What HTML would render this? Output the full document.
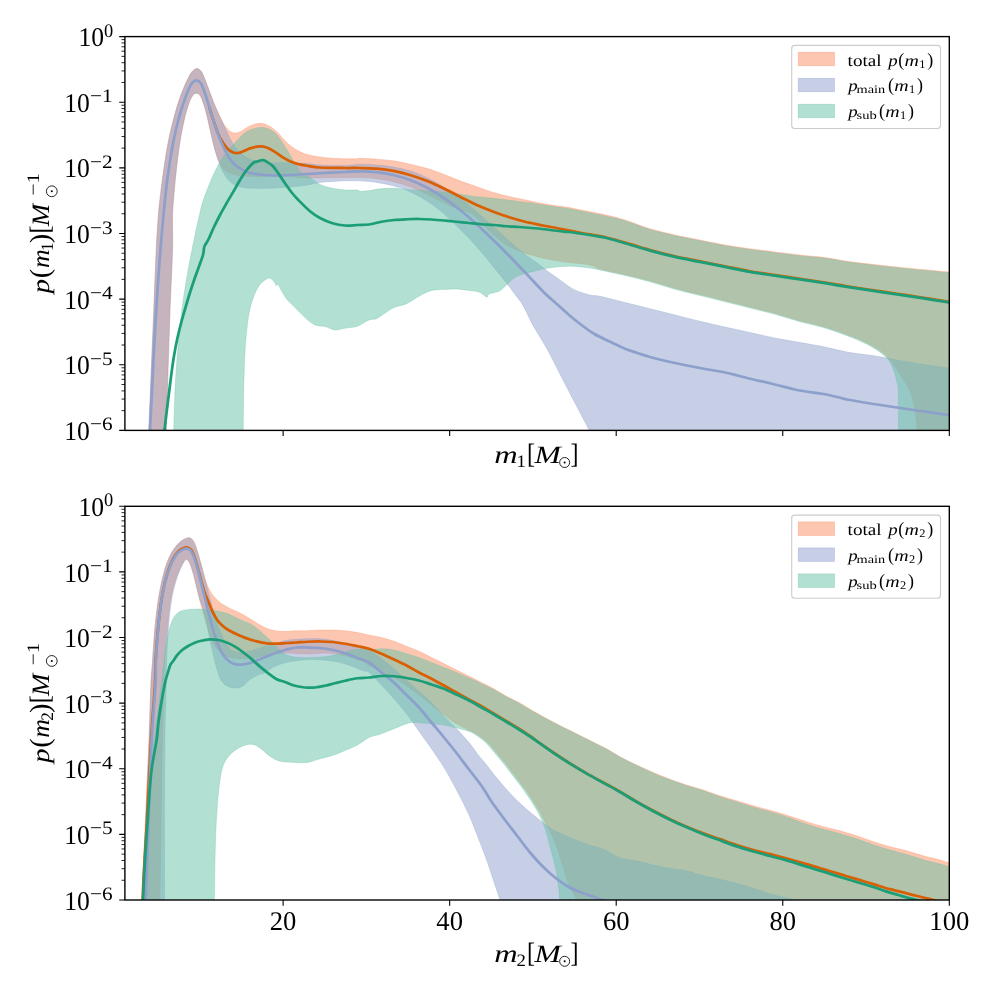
<!DOCTYPE html>
<html><head><meta charset="utf-8"><title>mass spectrum</title>
<style>
html,body{margin:0;padding:0;background:#fff;}
body{width:996px;height:996px;overflow:hidden;}
svg{display:block;}
text{font-family:"Liberation Serif",serif;fill:#000;text-rendering:geometricPrecision;filter:grayscale(1);}
</style></head><body>
<svg width="996" height="996" viewBox="0 0 996 996">
<rect width="996" height="996" fill="#fff"/>
<clipPath id="c1"><rect x="124.90" y="36.60" width="824.40" height="393.80"/></clipPath>
<g clip-path="url(#c1)"><path d="M146.25,465.00C146.67,459.21 147.92,446.08 148.75,430.25C149.58,414.42 150.42,390.04 151.25,370.00C152.08,349.96 152.92,330.00 153.75,310.00C154.58,290.00 155.49,265.67 156.25,250.00C157.01,234.33 157.57,225.72 158.33,216.00C159.10,206.28 159.86,199.89 160.83,191.67C161.81,183.44 162.92,175.00 164.17,166.67C165.42,158.33 166.81,149.44 168.33,141.67C169.86,133.89 171.53,126.94 173.33,120.00C175.14,113.06 177.22,105.83 179.17,100.00C181.11,94.17 183.06,89.44 185.00,85.00C186.94,80.56 189.17,75.97 190.83,73.33C192.50,70.69 193.89,69.94 195.00,69.17C196.11,68.39 196.53,68.39 197.50,68.67C198.47,68.94 199.72,69.36 200.83,70.83C201.94,72.31 202.92,74.58 204.17,77.50C205.42,80.42 206.81,84.31 208.33,88.33C209.86,92.36 211.67,97.50 213.33,101.67C215.00,105.83 216.67,109.72 218.33,113.33C220.00,116.94 221.67,120.56 223.33,123.33C225.00,126.11 226.67,128.42 228.33,130.00C230.00,131.58 231.67,132.42 233.33,132.83C235.00,133.25 236.67,132.97 238.33,132.50C240.00,132.03 241.67,130.97 243.33,130.00C245.00,129.03 246.39,127.64 248.33,126.67C250.28,125.69 253.06,124.72 255.00,124.17C256.94,123.61 258.33,123.33 260.00,123.33C261.67,123.33 263.06,123.47 265.00,124.17C266.94,124.86 269.44,125.97 271.67,127.50C273.89,129.03 276.11,131.11 278.33,133.33C280.56,135.56 282.78,138.61 285.00,140.83C287.22,143.06 289.44,145.00 291.67,146.67C293.89,148.33 295.94,149.58 298.33,150.83C300.72,152.08 302.39,153.14 306.00,154.17C309.61,155.19 315.58,156.32 320.00,157.00C324.42,157.68 328.33,157.96 332.50,158.25C336.67,158.54 340.83,158.67 345.00,158.75C349.17,158.83 355.00,158.82 357.50,158.75C360.00,158.68 356.81,158.26 360.00,158.33C363.19,158.40 371.11,158.75 376.67,159.17C382.22,159.58 387.78,160.00 393.33,160.83C398.89,161.67 404.44,162.92 410.00,164.17C415.56,165.42 421.11,166.67 426.67,168.33C432.22,170.00 437.78,172.08 443.33,174.17C448.89,176.25 454.44,178.75 460.00,180.83C465.56,182.92 471.11,184.72 476.67,186.67C482.22,188.61 487.78,190.83 493.33,192.50C498.89,194.17 504.56,195.42 510.00,196.67C515.44,197.92 522.42,199.24 526.00,200.00C529.58,200.76 528.50,200.62 531.50,201.25C534.50,201.88 539.83,203.00 544.00,203.75C548.17,204.50 552.33,205.12 556.50,205.75C560.67,206.38 564.83,206.79 569.00,207.50C573.17,208.21 577.33,209.17 581.50,210.00C585.67,210.83 589.83,211.67 594.00,212.50C598.17,213.33 601.33,213.75 606.50,215.00C611.67,216.25 617.75,217.71 625.00,220.00C632.25,222.29 641.67,226.25 650.00,228.75C658.33,231.25 666.67,233.12 675.00,235.00C683.33,236.88 691.67,238.33 700.00,240.00C708.33,241.67 716.67,243.54 725.00,245.00C733.33,246.46 741.67,247.58 750.00,248.75C758.33,249.92 766.67,250.96 775.00,252.00C783.33,253.04 791.67,254.08 800.00,255.00C808.33,255.92 817.17,256.46 825.00,257.50C832.83,258.54 839.17,260.12 847.00,261.25C854.83,262.38 863.67,263.29 872.00,264.25C880.33,265.21 888.67,266.12 897.00,267.00C905.33,267.88 913.33,268.67 922.00,269.50C930.67,270.33 943.17,271.46 949.00,272.00C954.83,272.54 955.67,272.62 957.00,272.75L962.00,525.00 L918.25,525.00L918.25,465.00C918.04,459.21 917.62,439.83 917.00,430.25C916.38,420.67 915.75,414.21 914.50,407.50C913.25,400.79 911.38,394.58 909.50,390.00C907.62,385.42 905.33,383.33 903.25,380.00C901.17,376.67 899.29,373.42 897.00,370.00C894.71,366.58 892.00,362.50 889.50,359.50C887.00,356.50 884.92,354.29 882.00,352.00C879.08,349.71 875.75,347.83 872.00,345.75C868.25,343.67 863.67,341.38 859.50,339.50C855.33,337.62 852.75,336.58 847.00,334.50C841.25,332.42 832.83,329.29 825.00,327.00C817.17,324.71 808.33,323.04 800.00,320.75C791.67,318.46 783.33,315.54 775.00,313.25C766.67,310.96 758.33,309.08 750.00,307.00C741.67,304.92 733.33,302.83 725.00,300.75C716.67,298.67 708.33,296.58 700.00,294.50C691.67,292.42 683.33,290.54 675.00,288.25C666.67,285.96 658.33,283.04 650.00,280.75C641.67,278.46 633.33,276.46 625.00,274.50C616.67,272.54 605.83,270.58 600.00,269.00C594.17,267.42 594.44,266.00 590.00,265.00C585.56,264.00 578.89,263.69 573.33,263.00C567.78,262.31 562.22,261.75 556.67,260.83C551.11,259.92 545.56,258.89 540.00,257.50C534.44,256.11 528.89,254.58 523.33,252.50C517.78,250.42 512.22,248.47 506.67,245.00C501.11,241.53 495.56,236.67 490.00,231.67C484.44,226.67 478.33,218.61 473.33,215.00C468.33,211.39 465.00,212.08 460.00,210.00C455.00,207.92 448.89,205.14 443.33,202.50C437.78,199.86 432.22,196.81 426.67,194.17C421.11,191.53 415.56,188.75 410.00,186.67C404.44,184.58 398.89,183.00 393.33,181.67C387.78,180.33 382.22,179.36 376.67,178.67C371.11,177.97 371.78,177.61 360.00,177.50C348.22,177.39 317.67,178.14 306.00,178.00C294.33,177.86 295.44,176.94 290.00,176.67C284.56,176.39 278.89,176.33 273.33,176.33C267.78,176.33 262.22,176.75 256.67,176.67C251.11,176.58 244.44,176.39 240.00,175.83C235.56,175.28 232.78,174.53 230.00,173.33C227.22,172.14 225.14,170.61 223.33,168.67C221.53,166.72 220.56,164.78 219.17,161.67C217.78,158.56 216.25,154.17 215.00,150.00C213.75,145.83 212.78,141.39 211.67,136.67C210.56,131.94 209.44,126.39 208.33,121.67C207.22,116.94 206.25,112.50 205.00,108.33C203.75,104.17 202.22,99.17 200.83,96.67C199.44,94.17 198.06,93.47 196.67,93.33C195.28,93.19 193.89,93.89 192.50,95.83C191.11,97.78 189.72,100.97 188.33,105.00C186.94,109.03 185.56,113.89 184.17,120.00C182.78,126.11 181.25,133.89 180.00,141.67C178.75,149.44 177.64,158.33 176.67,166.67C175.69,175.00 174.86,183.44 174.17,191.67C173.47,199.89 172.78,206.28 172.50,216.00C172.22,225.72 172.92,234.33 172.50,250.00C172.08,265.67 170.75,290.00 170.00,310.00C169.25,330.00 168.62,349.96 168.00,370.00C167.38,390.04 166.67,414.42 166.25,430.25C165.83,446.08 165.62,459.21 165.50,465.00Z" fill="#fc8d62" fill-opacity="0.5" stroke="#fc8d62" stroke-opacity="0.5" stroke-width="0.6"/>
<path d="M146.25,465.00C146.67,459.21 147.92,446.08 148.75,430.25C149.58,414.42 150.42,390.04 151.25,370.00C152.08,349.96 152.92,330.00 153.75,310.00C154.58,290.00 155.49,265.67 156.25,250.00C157.01,234.33 157.57,225.72 158.33,216.00C159.10,206.28 159.86,199.89 160.83,191.67C161.81,183.44 162.92,175.00 164.17,166.67C165.42,158.33 166.81,149.44 168.33,141.67C169.86,133.89 171.53,126.94 173.33,120.00C175.14,113.06 177.22,105.83 179.17,100.00C181.11,94.17 183.06,89.44 185.00,85.00C186.94,80.56 189.17,75.97 190.83,73.33C192.50,70.69 193.89,69.94 195.00,69.17C196.11,68.39 196.53,68.39 197.50,68.67C198.47,68.94 199.72,69.36 200.83,70.83C201.94,72.31 202.92,74.58 204.17,77.50C205.42,80.42 206.81,84.31 208.33,88.33C209.86,92.36 211.67,97.50 213.33,101.67C215.00,105.83 216.67,109.58 218.33,113.33C220.00,117.08 221.67,120.56 223.33,124.17C225.00,127.78 226.67,131.67 228.33,135.00C230.00,138.33 231.39,141.25 233.33,144.17C235.28,147.08 237.50,150.14 240.00,152.50C242.50,154.86 245.56,156.86 248.33,158.33C251.11,159.81 253.89,160.64 256.67,161.33C259.44,162.03 262.22,162.25 265.00,162.50C267.78,162.75 269.17,162.78 273.33,162.83C277.50,162.89 284.56,162.75 290.00,162.83C295.44,162.92 301.00,162.97 306.00,163.33C311.00,163.69 313.50,164.64 320.00,165.00C326.50,165.36 338.33,165.64 345.00,165.50C351.67,165.36 354.72,164.25 360.00,164.17C365.28,164.08 371.11,164.53 376.67,165.00C382.22,165.47 387.78,166.03 393.33,167.00C398.89,167.97 404.44,169.08 410.00,170.83C415.56,172.58 421.11,174.86 426.67,177.50C432.22,180.14 437.78,183.19 443.33,186.67C448.89,190.14 454.44,194.17 460.00,198.33C465.56,202.50 471.11,206.94 476.67,211.67C482.22,216.39 487.78,221.67 493.33,226.67C498.89,231.67 504.56,236.94 510.00,241.67C515.44,246.39 521.00,251.11 526.00,255.00C531.00,258.89 536.28,262.22 540.00,265.00C543.72,267.78 545.56,269.58 548.33,271.67C551.11,273.75 552.50,274.58 556.67,277.50C560.83,280.42 567.78,286.25 573.33,289.17C578.89,292.08 585.56,293.82 590.00,295.00C594.44,296.18 594.17,295.00 600.00,296.25C605.83,297.50 616.67,300.42 625.00,302.50C633.33,304.58 641.67,306.67 650.00,308.75C658.33,310.83 666.67,312.92 675.00,315.00C683.33,317.08 691.67,319.25 700.00,321.25C708.33,323.25 716.67,325.12 725.00,327.00C733.33,328.88 741.67,330.67 750.00,332.50C758.33,334.33 766.67,336.33 775.00,338.00C783.33,339.67 791.67,341.00 800.00,342.50C808.33,344.00 817.17,345.42 825.00,347.00C832.83,348.58 839.17,350.58 847.00,352.00C854.83,353.42 865.33,354.50 872.00,355.50C878.67,356.50 882.83,357.25 887.00,358.00C891.17,358.75 891.17,358.96 897.00,360.00C902.83,361.04 913.33,362.92 922.00,364.25C930.67,365.58 943.17,367.21 949.00,368.00C954.83,368.79 955.67,368.83 957.00,369.00L962.00,525.00 L603.33,525.00L603.33,465.00C602.11,461.83 598.22,451.50 596.00,446.00C593.78,440.50 592.11,436.50 590.00,432.00C587.89,427.50 586.11,424.33 583.33,419.00C580.56,413.67 577.22,407.47 573.33,400.00C569.44,392.53 564.44,382.78 560.00,374.17C555.56,365.56 551.11,356.36 546.67,348.33C542.22,340.31 537.22,333.06 533.33,326.00C529.44,318.94 526.11,310.89 523.33,306.00C520.56,301.11 519.44,300.44 516.67,296.67C513.89,292.89 510.56,288.33 506.67,283.33C502.78,278.33 498.33,272.78 493.33,266.67C488.33,260.56 482.22,252.92 476.67,246.67C471.11,240.42 465.56,234.72 460.00,229.17C454.44,223.61 448.89,218.06 443.33,213.33C437.78,208.61 432.22,204.44 426.67,200.83C421.11,197.22 415.56,194.17 410.00,191.67C404.44,189.17 398.89,187.36 393.33,185.83C387.78,184.31 382.22,183.33 376.67,182.50C371.11,181.67 363.19,181.12 360.00,180.83C356.81,180.54 360.00,180.76 357.50,180.75C355.00,180.74 349.17,180.62 345.00,180.75C340.83,180.88 336.67,181.21 332.50,181.50C328.33,181.79 324.42,181.86 320.00,182.50C315.58,183.14 311.00,184.58 306.00,185.33C301.00,186.08 294.89,186.56 290.00,187.00C285.11,187.44 280.83,187.78 276.67,188.00C272.50,188.22 268.89,188.28 265.00,188.33C261.11,188.39 256.94,188.47 253.33,188.33C249.72,188.19 246.39,188.06 243.33,187.50C240.28,186.94 237.50,186.25 235.00,185.00C232.50,183.75 230.28,182.08 228.33,180.00C226.39,177.92 224.86,175.28 223.33,172.50C221.81,169.72 220.56,167.08 219.17,163.33C217.78,159.58 216.25,154.44 215.00,150.00C213.75,145.56 212.78,141.39 211.67,136.67C210.56,131.94 209.44,126.39 208.33,121.67C207.22,116.94 206.25,112.50 205.00,108.33C203.75,104.17 202.22,99.17 200.83,96.67C199.44,94.17 198.06,93.47 196.67,93.33C195.28,93.19 193.89,93.89 192.50,95.83C191.11,97.78 189.72,100.97 188.33,105.00C186.94,109.03 185.56,113.89 184.17,120.00C182.78,126.11 181.25,133.89 180.00,141.67C178.75,149.44 177.64,158.33 176.67,166.67C175.69,175.00 174.86,183.44 174.17,191.67C173.47,199.89 172.78,206.28 172.50,216.00C172.22,225.72 172.92,234.33 172.50,250.00C172.08,265.67 170.75,290.00 170.00,310.00C169.25,330.00 168.62,349.96 168.00,370.00C167.38,390.04 166.67,414.42 166.25,430.25C165.83,446.08 165.62,459.21 165.50,465.00Z" fill="#8da0cb" fill-opacity="0.5" stroke="#8da0cb" stroke-opacity="0.5" stroke-width="0.6"/>
<path d="M173.00,465.00C173.12,459.21 173.42,442.75 173.75,430.25C174.08,417.75 174.38,402.96 175.00,390.00C175.62,377.04 176.46,365.00 177.50,352.50C178.54,340.00 179.92,326.25 181.25,315.00C182.58,303.75 184.04,294.17 185.50,285.00C186.96,275.83 188.42,268.33 190.00,260.00C191.58,251.67 193.33,242.92 195.00,235.00C196.67,227.08 198.61,218.33 200.00,212.50C201.39,206.67 201.94,204.31 203.33,200.00C204.72,195.69 206.67,190.83 208.33,186.67C210.00,182.50 211.67,178.61 213.33,175.00C215.00,171.39 216.67,168.06 218.33,165.00C220.00,161.94 221.39,159.44 223.33,156.67C225.28,153.89 227.78,150.97 230.00,148.33C232.22,145.69 234.44,143.19 236.67,140.83C238.89,138.47 241.11,135.97 243.33,134.17C245.56,132.36 247.78,131.03 250.00,130.00C252.22,128.97 254.72,128.42 256.67,128.00C258.61,127.58 260.00,127.44 261.67,127.50C263.33,127.56 264.72,127.64 266.67,128.33C268.61,129.03 271.39,130.28 273.33,131.67C275.28,133.06 276.39,134.17 278.33,136.67C280.28,139.17 283.06,143.61 285.00,146.67C286.94,149.72 288.06,151.67 290.00,155.00C291.94,158.33 294.44,163.33 296.67,166.67C298.89,170.00 301.11,173.19 303.33,175.00C305.56,176.81 307.22,175.92 310.00,177.50C312.78,179.08 316.25,182.71 320.00,184.50C323.75,186.29 328.33,187.33 332.50,188.25C336.67,189.17 340.83,189.71 345.00,190.00C349.17,190.29 355.00,189.78 357.50,190.00C360.00,190.22 357.92,191.25 360.00,191.33C362.08,191.42 366.67,190.92 370.00,190.50C373.33,190.08 376.11,189.19 380.00,188.83C383.89,188.47 389.72,188.31 393.33,188.33C396.94,188.36 398.89,188.78 401.67,189.00C404.44,189.22 405.83,189.36 410.00,189.67C414.17,189.97 421.11,190.42 426.67,190.83C432.22,191.25 437.78,191.58 443.33,192.17C448.89,192.75 454.44,193.58 460.00,194.33C465.56,195.08 471.11,196.00 476.67,196.67C482.22,197.33 487.78,197.72 493.33,198.33C498.89,198.94 504.56,199.64 510.00,200.33C515.44,201.03 522.42,202.06 526.00,202.50C529.58,202.94 528.50,202.58 531.50,203.00C534.50,203.42 539.83,204.33 544.00,205.00C548.17,205.67 552.33,206.38 556.50,207.00C560.67,207.62 564.83,208.04 569.00,208.75C573.17,209.46 577.33,210.42 581.50,211.25C585.67,212.08 589.83,212.92 594.00,213.75C598.17,214.58 601.33,215.08 606.50,216.25C611.67,217.42 617.75,218.54 625.00,220.75C632.25,222.96 641.67,227.00 650.00,229.50C658.33,232.00 666.67,233.88 675.00,235.75C683.33,237.62 691.67,239.08 700.00,240.75C708.33,242.42 716.67,244.29 725.00,245.75C733.33,247.21 741.67,248.33 750.00,249.50C758.33,250.67 766.67,251.71 775.00,252.75C783.33,253.79 791.67,254.83 800.00,255.75C808.33,256.67 817.17,257.21 825.00,258.25C832.83,259.29 839.17,260.88 847.00,262.00C854.83,263.12 863.67,264.04 872.00,265.00C880.33,265.96 888.67,266.88 897.00,267.75C905.33,268.62 913.33,269.42 922.00,270.25C930.67,271.08 943.17,272.21 949.00,272.75C954.83,273.29 955.67,273.38 957.00,273.50L962.00,525.00 L898.75,525.00L898.75,465.00C898.71,459.21 898.58,442.75 898.50,430.25C898.42,417.75 898.50,397.96 898.25,390.00C898.00,382.04 897.62,385.42 897.00,382.50C896.38,379.58 895.75,376.04 894.50,372.50C893.25,368.96 891.58,364.38 889.50,361.25C887.42,358.12 884.92,356.12 882.00,353.75C879.08,351.38 875.75,349.17 872.00,347.00C868.25,344.83 863.67,342.62 859.50,340.75C855.33,338.88 852.75,337.88 847.00,335.75C841.25,333.62 832.83,330.33 825.00,328.00C817.17,325.67 808.33,324.04 800.00,321.75C791.67,319.46 783.33,316.54 775.00,314.25C766.67,311.96 758.33,310.08 750.00,308.00C741.67,305.92 733.33,303.83 725.00,301.75C716.67,299.67 708.33,297.58 700.00,295.50C691.67,293.42 683.33,291.54 675.00,289.25C666.67,286.96 658.33,284.04 650.00,281.75C641.67,279.46 633.33,277.46 625.00,275.50C616.67,273.54 605.17,271.12 600.00,270.00C594.83,268.88 597.08,269.25 594.00,268.75C590.92,268.25 585.67,267.42 581.50,267.00C577.33,266.58 573.17,266.25 569.00,266.25C564.83,266.25 560.67,266.58 556.50,267.00C552.33,267.42 547.75,268.04 544.00,268.75C540.25,269.46 537.33,270.42 534.00,271.25C530.67,272.08 527.33,272.62 524.00,273.75C520.67,274.88 516.92,276.12 514.00,278.00C511.08,279.88 509.00,282.79 506.50,285.00C504.00,287.21 501.83,289.79 499.00,291.25C496.17,292.71 491.46,292.79 489.50,293.75C487.54,294.71 487.96,296.58 487.25,297.00C486.54,297.42 486.62,297.08 485.25,296.25C483.88,295.42 481.71,292.96 479.00,292.00C476.29,291.04 472.75,291.00 469.00,290.50C465.25,290.00 460.67,289.17 456.50,289.00C452.33,288.83 448.17,289.25 444.00,289.50C439.83,289.75 435.67,289.38 431.50,290.50C427.33,291.62 423.17,294.04 419.00,296.25C414.83,298.46 410.67,301.88 406.50,303.75C402.33,305.62 397.75,305.83 394.00,307.50C390.25,309.17 386.92,311.88 384.00,313.75C381.08,315.62 379.00,317.71 376.50,318.75C374.00,319.79 372.17,318.75 369.00,320.00C365.83,321.25 361.50,324.88 357.50,326.25C353.50,327.62 348.75,327.62 345.00,328.25C341.25,328.88 338.33,330.29 335.00,330.00C331.67,329.71 328.33,327.33 325.00,326.50C321.67,325.67 318.33,326.50 315.00,325.00C311.67,323.50 308.33,320.42 305.00,317.50C301.67,314.58 297.92,310.42 295.00,307.50C292.08,304.58 289.58,302.50 287.50,300.00C285.42,297.50 284.08,295.08 282.50,292.50C280.92,289.92 279.04,285.67 278.00,284.50C276.96,283.33 276.96,286.04 276.25,285.50C275.54,284.96 274.88,282.50 273.75,281.25C272.62,280.00 270.96,278.21 269.50,278.00C268.04,277.79 266.79,278.62 265.00,280.00C263.21,281.38 260.83,282.92 258.75,286.25C256.67,289.58 254.29,294.38 252.50,300.00C250.71,305.62 249.25,311.25 248.00,320.00C246.75,328.75 245.71,340.83 245.00,352.50C244.29,364.17 244.04,377.04 243.75,390.00C243.46,402.96 243.38,417.75 243.25,430.25C243.12,442.75 243.04,459.21 243.00,465.00Z" fill="#66c2a5" fill-opacity="0.5" stroke="#66c2a5" stroke-opacity="0.5" stroke-width="0.6"/>
<path d="M209.17,106.67C209.86,108.89 211.81,115.42 213.33,120.00C214.86,124.58 216.67,130.28 218.33,134.17C220.00,138.06 221.67,140.78 223.33,143.33C225.00,145.89 226.67,147.97 228.33,149.50C230.00,151.03 231.67,151.92 233.33,152.50C235.00,153.08 236.67,153.19 238.33,153.00C240.00,152.81 241.39,152.11 243.33,151.33C245.28,150.56 247.78,149.11 250.00,148.33C252.22,147.56 254.72,147.00 256.67,146.67C258.61,146.33 260.00,146.19 261.67,146.33C263.33,146.47 264.72,146.75 266.67,147.50C268.61,148.25 270.83,149.31 273.33,150.83C275.83,152.36 278.89,154.92 281.67,156.67C284.44,158.42 287.22,160.08 290.00,161.33C292.78,162.58 295.67,163.47 298.33,164.17C301.00,164.86 302.39,164.94 306.00,165.50C309.61,166.06 313.50,167.08 320.00,167.50C326.50,167.92 338.33,167.92 345.00,168.00C351.67,168.08 354.72,167.89 360.00,168.00C365.28,168.11 371.11,168.19 376.67,168.67C382.22,169.14 387.78,169.78 393.33,170.83C398.89,171.89 404.44,173.33 410.00,175.00C415.56,176.67 421.11,178.61 426.67,180.83C432.22,183.06 437.78,185.69 443.33,188.33C448.89,190.97 454.44,193.89 460.00,196.67C465.56,199.44 471.11,202.50 476.67,205.00C482.22,207.50 487.78,209.58 493.33,211.67C498.89,213.75 504.56,215.78 510.00,217.50C515.44,219.22 522.42,221.08 526.00,222.00C529.58,222.92 528.50,222.38 531.50,223.00C534.50,223.62 539.83,224.92 544.00,225.75C548.17,226.58 552.33,227.21 556.50,228.00C560.67,228.79 564.83,229.67 569.00,230.50C573.17,231.33 577.33,232.25 581.50,233.00C585.67,233.75 589.83,234.25 594.00,235.00C598.17,235.75 601.33,236.25 606.50,237.50C611.67,238.75 617.75,240.42 625.00,242.50C632.25,244.58 641.67,247.71 650.00,250.00C658.33,252.29 666.67,254.38 675.00,256.25C683.33,258.12 691.67,259.58 700.00,261.25C708.33,262.92 716.67,264.58 725.00,266.25C733.33,267.92 741.67,269.79 750.00,271.25C758.33,272.71 766.67,273.75 775.00,275.00C783.33,276.25 791.67,277.50 800.00,278.75C808.33,280.00 817.17,281.25 825.00,282.50C832.83,283.75 839.17,285.00 847.00,286.25C854.83,287.50 863.67,288.75 872.00,290.00C880.33,291.25 888.67,292.50 897.00,293.75C905.33,295.00 913.33,296.17 922.00,297.50C930.67,298.83 943.17,300.83 949.00,301.75C954.83,302.67 955.67,302.79 957.00,303.00" fill="none" stroke="#d95f02" stroke-width="2.75" stroke-linejoin="round"/>
<path d="M148.00,465.00C148.33,459.21 149.33,442.75 150.00,430.25C150.67,417.75 151.25,405.04 152.00,390.00C152.75,374.96 153.58,356.67 154.50,340.00C155.42,323.33 156.38,306.67 157.50,290.00C158.62,273.33 159.86,256.39 161.25,240.00C162.64,223.61 164.51,203.89 165.83,191.67C167.15,179.44 167.92,175.00 169.17,166.67C170.42,158.33 171.81,149.44 173.33,141.67C174.86,133.89 176.67,126.39 178.33,120.00C180.00,113.61 181.67,108.33 183.33,103.33C185.00,98.33 186.81,93.47 188.33,90.00C189.86,86.53 191.11,84.11 192.50,82.50C193.89,80.89 195.28,80.19 196.67,80.33C198.06,80.47 199.44,81.17 200.83,83.33C202.22,85.50 203.61,89.44 205.00,93.33C206.39,97.22 207.78,102.22 209.17,106.67C210.56,111.11 211.81,115.28 213.33,120.00C214.86,124.72 216.67,130.56 218.33,135.00C220.00,139.44 221.67,143.06 223.33,146.67C225.00,150.28 226.67,153.89 228.33,156.67C230.00,159.44 231.39,161.39 233.33,163.33C235.28,165.28 237.50,166.81 240.00,168.33C242.50,169.86 245.56,171.53 248.33,172.50C251.11,173.47 253.89,173.75 256.67,174.17C259.44,174.58 262.22,174.81 265.00,175.00C267.78,175.19 270.56,175.28 273.33,175.33C276.11,175.39 278.89,175.39 281.67,175.33C284.44,175.28 287.22,175.14 290.00,175.00C292.78,174.86 293.33,174.79 298.33,174.50C303.33,174.21 312.22,173.67 320.00,173.25C327.78,172.83 338.33,172.32 345.00,172.00C351.67,171.68 354.72,171.31 360.00,171.33C365.28,171.36 371.11,171.56 376.67,172.17C382.22,172.78 387.78,173.69 393.33,175.00C398.89,176.31 404.44,177.92 410.00,180.00C415.56,182.08 421.11,184.58 426.67,187.50C432.22,190.42 437.78,193.75 443.33,197.50C448.89,201.25 454.44,205.56 460.00,210.00C465.56,214.44 471.11,219.17 476.67,224.17C482.22,229.17 487.78,234.58 493.33,240.00C498.89,245.42 504.56,251.11 510.00,256.67C515.44,262.22 520.33,267.36 526.00,273.33C531.67,279.31 538.92,287.43 544.00,292.50C549.08,297.57 552.33,300.00 556.50,303.75C560.67,307.50 564.83,311.46 569.00,315.00C573.17,318.54 577.33,321.88 581.50,325.00C585.67,328.12 588.83,330.75 594.00,333.75C599.17,336.75 607.33,340.50 612.50,343.00C617.67,345.50 620.83,347.08 625.00,348.75C629.17,350.42 633.33,351.62 637.50,353.00C641.67,354.38 643.75,355.33 650.00,357.00C656.25,358.67 666.67,361.17 675.00,363.00C683.33,364.83 691.67,366.42 700.00,368.00C708.33,369.58 718.75,371.25 725.00,372.50C731.25,373.75 733.33,374.46 737.50,375.50C741.67,376.54 744.25,377.38 750.00,378.75C755.75,380.12 764.17,381.88 772.00,383.75C779.83,385.62 788.67,388.33 797.00,390.00C805.33,391.67 814.92,392.50 822.00,393.75C829.08,395.00 835.33,396.54 839.50,397.50C843.67,398.46 841.58,398.46 847.00,399.50C852.42,400.54 863.67,402.42 872.00,403.75C880.33,405.08 888.67,406.25 897.00,407.50C905.33,408.75 913.33,410.00 922.00,411.25C930.67,412.50 943.17,414.17 949.00,415.00C954.83,415.83 955.67,416.04 957.00,416.25" fill="none" stroke="#8da0cb" stroke-width="2.75" stroke-linejoin="round"/>
<path d="M162.50,450.00C162.83,446.71 163.88,436.08 164.50,430.25C165.12,424.42 165.54,420.88 166.25,415.00C166.96,409.12 167.92,401.67 168.75,395.00C169.58,388.33 170.42,381.25 171.25,375.00C172.08,368.75 172.79,363.33 173.75,357.50C174.71,351.67 175.75,345.83 177.00,340.00C178.25,334.17 179.83,327.92 181.25,322.50C182.67,317.08 184.04,312.50 185.50,307.50C186.96,302.50 188.42,297.50 190.00,292.50C191.58,287.50 193.42,282.08 195.00,277.50C196.58,272.92 198.17,268.75 199.50,265.00C200.83,261.25 202.21,258.00 203.00,255.00C203.79,252.00 203.71,248.96 204.25,247.00C204.79,245.04 205.50,244.62 206.25,243.25C207.00,241.88 207.50,241.38 208.75,238.75C210.00,236.12 211.88,231.46 213.75,227.50C215.62,223.54 217.92,218.96 220.00,215.00C222.08,211.04 224.03,207.64 226.25,203.75C228.47,199.86 231.04,195.62 233.33,191.67C235.62,187.71 237.78,183.61 240.00,180.00C242.22,176.39 244.44,172.86 246.67,170.00C248.89,167.14 251.67,164.22 253.33,162.83C255.00,161.44 255.14,162.14 256.67,161.67C258.19,161.19 260.83,160.00 262.50,160.00C264.17,160.00 265.00,160.69 266.67,161.67C268.33,162.64 270.56,163.89 272.50,165.83C274.44,167.78 276.25,170.42 278.33,173.33C280.42,176.25 282.78,180.14 285.00,183.33C287.22,186.53 289.44,189.72 291.67,192.50C293.89,195.28 295.28,196.88 298.33,200.00C301.39,203.12 306.39,208.25 310.00,211.25C313.61,214.25 316.25,216.00 320.00,218.00C323.75,220.00 328.33,222.00 332.50,223.25C336.67,224.50 340.83,225.21 345.00,225.50C349.17,225.79 353.50,225.17 357.50,225.00C361.50,224.83 365.00,225.04 369.00,224.50C373.00,223.96 377.33,222.50 381.50,221.75C385.67,221.00 389.83,220.42 394.00,220.00C398.17,219.58 402.33,219.42 406.50,219.25C410.67,219.08 414.83,218.96 419.00,219.00C423.17,219.04 427.33,219.25 431.50,219.50C435.67,219.75 439.83,220.12 444.00,220.50C448.17,220.88 452.33,221.33 456.50,221.75C460.67,222.17 464.83,222.58 469.00,223.00C473.17,223.42 477.33,223.92 481.50,224.25C485.67,224.58 489.83,224.67 494.00,225.00C498.17,225.33 502.33,225.92 506.50,226.25C510.67,226.58 514.83,226.71 519.00,227.00C523.17,227.29 527.33,227.62 531.50,228.00C535.67,228.38 539.83,228.79 544.00,229.25C548.17,229.71 552.33,230.29 556.50,230.75C560.67,231.21 564.83,231.50 569.00,232.00C573.17,232.50 577.33,233.12 581.50,233.75C585.67,234.38 589.83,235.04 594.00,235.75C598.17,236.46 601.33,236.76 606.50,238.00C611.67,239.24 617.75,241.08 625.00,243.20C632.25,245.32 641.67,248.41 650.00,250.70C658.33,252.99 666.67,255.07 675.00,256.95C683.33,258.82 691.67,260.28 700.00,261.95C708.33,263.62 716.67,265.28 725.00,266.95C733.33,268.62 741.67,270.49 750.00,271.95C758.33,273.41 766.67,274.45 775.00,275.70C783.33,276.95 791.67,278.20 800.00,279.45C808.33,280.70 817.17,281.95 825.00,283.20C832.83,284.45 839.17,285.70 847.00,286.95C854.83,288.20 863.67,289.45 872.00,290.70C880.33,291.95 888.67,293.20 897.00,294.45C905.33,295.70 913.33,296.87 922.00,298.20C930.67,299.53 943.17,301.53 949.00,302.45C954.83,303.37 955.67,303.49 957.00,303.70" fill="none" stroke="#1b9e77" stroke-width="2.75" stroke-linejoin="round"/></g>
<path d="M124.90,36.60 h-5.7 M124.90,102.23 h-5.7 M124.90,167.87 h-5.7 M124.90,233.50 h-5.7 M124.90,299.13 h-5.7 M124.90,364.77 h-5.7 M124.90,430.40 h-5.7" stroke="#000" stroke-width="1.1" fill="none"/>
<path d="M124.90,82.48 h-3.4 M124.90,70.92 h-3.4 M124.90,62.72 h-3.4 M124.90,56.36 h-3.4 M124.90,51.16 h-3.4 M124.90,46.77 h-3.4 M124.90,42.96 h-3.4 M124.90,39.60 h-3.4 M124.90,148.11 h-3.4 M124.90,136.55 h-3.4 M124.90,128.35 h-3.4 M124.90,121.99 h-3.4 M124.90,116.79 h-3.4 M124.90,112.40 h-3.4 M124.90,108.59 h-3.4 M124.90,105.24 h-3.4 M124.90,213.74 h-3.4 M124.90,202.18 h-3.4 M124.90,193.98 h-3.4 M124.90,187.62 h-3.4 M124.90,182.43 h-3.4 M124.90,178.03 h-3.4 M124.90,174.23 h-3.4 M124.90,170.87 h-3.4 M124.90,279.38 h-3.4 M124.90,267.82 h-3.4 M124.90,259.62 h-3.4 M124.90,253.26 h-3.4 M124.90,248.06 h-3.4 M124.90,243.67 h-3.4 M124.90,239.86 h-3.4 M124.90,236.50 h-3.4 M124.90,345.01 h-3.4 M124.90,333.45 h-3.4 M124.90,325.25 h-3.4 M124.90,318.89 h-3.4 M124.90,313.69 h-3.4 M124.90,309.30 h-3.4 M124.90,305.49 h-3.4 M124.90,302.14 h-3.4 M124.90,410.64 h-3.4 M124.90,399.08 h-3.4 M124.90,390.88 h-3.4 M124.90,384.52 h-3.4 M124.90,379.33 h-3.4 M124.90,374.93 h-3.4 M124.90,371.13 h-3.4 M124.90,367.77 h-3.4" stroke="#000" stroke-width="0.85" fill="none"/>
<path d="M283.12,430.40 v5.7 M449.66,430.40 v5.7 M616.21,430.40 v5.7 M782.75,430.40 v5.7 M949.30,430.40 v5.7" stroke="#000" stroke-width="1.1" fill="none"/>
<rect x="124.90" y="36.60" width="824.40" height="393.80" fill="none" stroke="#000" stroke-width="1.39"/>
<text transform="translate(78.40 46.20) scale(0.9481 1)" font-size="27.00">10</text>
<text transform="translate(104.00 36.60) scale(0.9684 1)" font-size="19.00">0</text>
<text transform="translate(64.30 111.83) scale(0.9481 1)" font-size="27.00">10</text>
<text transform="translate(90.00 102.23) scale(1.1179 1)" font-size="19.00">−1</text>
<text transform="translate(64.30 177.47) scale(0.9481 1)" font-size="27.00">10</text>
<text transform="translate(90.00 167.87) scale(1.1179 1)" font-size="19.00">−2</text>
<text transform="translate(64.30 243.10) scale(0.9481 1)" font-size="27.00">10</text>
<text transform="translate(90.00 233.50) scale(1.1179 1)" font-size="19.00">−3</text>
<text transform="translate(64.30 308.73) scale(0.9481 1)" font-size="27.00">10</text>
<text transform="translate(90.00 299.13) scale(1.1179 1)" font-size="19.00">−4</text>
<text transform="translate(64.30 374.37) scale(0.9481 1)" font-size="27.00">10</text>
<text transform="translate(90.00 364.77) scale(1.1179 1)" font-size="19.00">−5</text>
<text transform="translate(64.30 440.00) scale(0.9481 1)" font-size="27.00">10</text>
<text transform="translate(90.00 430.40) scale(1.1179 1)" font-size="19.00">−6</text>
<rect x="791.70" y="45.40" width="148.80" height="83.10" rx="3" ry="3" fill="#fff" fill-opacity="0.8" stroke="#ccc" stroke-width="1.1"/>
<rect x="798.2" y="52.20" width="36.4" height="13.6" fill="#fc8d62" fill-opacity="0.5" stroke="#fc8d62" stroke-opacity="0.5" stroke-width="0.6"/>
<rect x="798.2" y="78.20" width="36.4" height="13.6" fill="#8da0cb" fill-opacity="0.5" stroke="#8da0cb" stroke-opacity="0.5" stroke-width="0.6"/>
<rect x="798.2" y="104.20" width="36.4" height="13.6" fill="#66c2a5" fill-opacity="0.5" stroke="#66c2a5" stroke-opacity="0.5" stroke-width="0.6"/>
<text transform="translate(847.60 65.60) scale(1.1524 1)" font-size="16.60">total</text>
<text transform="translate(888.20 65.60) scale(1.1325 1)" font-size="16.60" font-style="italic">p</text>
<text transform="translate(898.20 65.60) scale(0.9686 1)" font-size="18.60">(</text>
<text transform="translate(904.40 65.60) scale(1.2012 1)" font-size="16.60" font-style="italic">m</text>
<text transform="translate(919.20 67.60) scale(1.0690 1)" font-size="11.60">1</text>
<text transform="translate(927.20 65.60) scale(0.9686 1)" font-size="18.60">)</text>
<text transform="translate(848.20 91.30) scale(1.1325 1)" font-size="16.60" font-style="italic">p</text>
<text transform="translate(856.60 93.30) scale(1.2331 1)" font-size="11.60">main</text>
<text transform="translate(888.00 91.30) scale(0.9686 1)" font-size="18.60">(</text>
<text transform="translate(894.20 91.30) scale(1.2012 1)" font-size="16.60" font-style="italic">m</text>
<text transform="translate(909.00 93.30) scale(1.0690 1)" font-size="11.60">1</text>
<text transform="translate(917.00 91.30) scale(0.9686 1)" font-size="18.60">)</text>
<text transform="translate(848.20 117.00) scale(1.1325 1)" font-size="16.60" font-style="italic">p</text>
<text transform="translate(856.60 119.00) scale(1.2536 1)" font-size="11.60">sub</text>
<text transform="translate(879.00 117.00) scale(0.9686 1)" font-size="18.60">(</text>
<text transform="translate(885.20 117.00) scale(1.2012 1)" font-size="16.60" font-style="italic">m</text>
<text transform="translate(900.00 119.00) scale(1.0690 1)" font-size="11.60">1</text>
<text transform="translate(908.00 117.00) scale(0.9686 1)" font-size="18.60">)</text>
<g transform="translate(49.2,293.50) rotate(-90)"><text transform="translate(0.10 0.00) scale(1.1600 1)" font-size="25.00" font-style="italic">p</text><text transform="translate(15.30 0.00) scale(1.0187 1)" font-size="28.00">(</text><text transform="translate(25.50 0.00) scale(1.0302 1)" font-size="25.00" font-style="italic">m</text><text transform="translate(42.40 3.90) scale(0.9829 1)" font-size="17.50">1</text><text transform="translate(50.20 0.00) scale(1.0187 1)" font-size="28.00">)</text><text transform="translate(60.00 0.00) scale(0.8579 1)" font-size="28.00">[</text><text transform="translate(67.20 0.00) scale(1.0756 1)" font-size="25.00" font-style="italic">M</text><circle cx="102.20" cy="2.60" r="5.40" fill="none" stroke="#000" stroke-width="0.85"/><circle cx="102.20" cy="2.60" r="1.05" fill="#000"/><text transform="translate(98.00 -10.00) scale(1.2138 1)" font-size="17.50">−1</text></g>
<text transform="translate(494.30 462.80) scale(1.2961 1)" font-size="25.00" font-style="italic">m</text><text transform="translate(516.60 466.70) scale(1.0743 1)" font-size="17.50">1</text><text transform="translate(527.00 462.80) scale(0.8579 1)" font-size="28.00">[</text><text transform="translate(534.40 462.80) scale(1.2676 1)" font-size="25.00" font-style="italic">M</text><circle cx="564.65" cy="462.50" r="5.00" fill="none" stroke="#000" stroke-width="0.85"/><circle cx="564.65" cy="462.50" r="1.05" fill="#000"/><text transform="translate(570.60 462.80) scale(0.8579 1)" font-size="28.00">]</text>
<clipPath id="c2"><rect x="124.90" y="506.30" width="824.40" height="393.70"/></clipPath>
<g clip-path="url(#c2)"><path d="M141.00,960.00C141.17,950.00 141.25,923.33 142.00,900.00C142.75,876.67 144.33,846.67 145.50,820.00C146.67,793.33 148.11,762.33 149.00,740.00C149.89,717.67 150.25,699.06 150.83,686.00C151.42,672.94 151.94,669.89 152.50,661.67C153.06,653.44 153.47,645.00 154.17,636.67C154.86,628.33 155.69,619.44 156.67,611.67C157.64,603.89 158.75,596.67 160.00,590.00C161.25,583.33 162.64,577.08 164.17,571.67C165.69,566.25 167.36,561.53 169.17,557.50C170.97,553.47 172.92,550.28 175.00,547.50C177.08,544.72 179.58,542.42 181.67,540.83C183.75,539.25 185.97,538.42 187.50,538.00C189.03,537.58 189.72,537.58 190.83,538.33C191.94,539.08 193.06,540.28 194.17,542.50C195.28,544.72 196.39,548.19 197.50,551.67C198.61,555.14 199.72,559.31 200.83,563.33C201.94,567.36 202.92,571.81 204.17,575.83C205.42,579.86 206.81,584.17 208.33,587.50C209.86,590.83 211.39,593.33 213.33,595.83C215.28,598.33 217.78,600.69 220.00,602.50C222.22,604.31 224.44,605.42 226.67,606.67C228.89,607.92 231.11,608.94 233.33,610.00C235.56,611.06 237.78,611.89 240.00,613.00C242.22,614.11 244.44,615.36 246.67,616.67C248.89,617.97 251.11,619.44 253.33,620.83C255.56,622.22 257.78,623.75 260.00,625.00C262.22,626.25 264.44,627.44 266.67,628.33C268.89,629.22 271.11,629.83 273.33,630.33C275.56,630.83 277.50,631.17 280.00,631.33C282.50,631.50 285.67,631.42 288.33,631.33C291.00,631.25 292.81,630.93 296.00,630.83C299.19,630.74 303.50,630.89 307.50,630.75C311.50,630.61 315.83,630.12 320.00,630.00C324.17,629.88 328.33,629.88 332.50,630.00C336.67,630.12 340.83,630.33 345.00,630.75C349.17,631.17 353.50,631.79 357.50,632.50C361.50,633.21 365.00,634.17 369.00,635.00C373.00,635.83 377.33,636.46 381.50,637.50C385.67,638.54 389.83,639.79 394.00,641.25C398.17,642.71 402.33,644.58 406.50,646.25C410.67,647.92 414.83,649.38 419.00,651.25C423.17,653.12 427.33,655.42 431.50,657.50C435.67,659.58 439.83,661.67 444.00,663.75C448.17,665.83 452.33,667.92 456.50,670.00C460.67,672.08 464.83,674.17 469.00,676.25C473.17,678.33 477.33,680.42 481.50,682.50C485.67,684.58 489.83,686.46 494.00,688.75C498.17,691.04 502.33,693.96 506.50,696.25C510.67,698.54 514.83,700.21 519.00,702.50C523.17,704.79 527.33,707.58 531.50,710.00C535.67,712.42 539.83,714.71 544.00,717.00C548.17,719.29 552.33,721.58 556.50,723.75C560.67,725.92 564.83,727.92 569.00,730.00C573.17,732.08 577.33,734.17 581.50,736.25C585.67,738.33 589.83,740.42 594.00,742.50C598.17,744.58 602.17,746.39 606.50,748.75C610.83,751.11 614.97,753.96 620.00,756.67C625.03,759.38 631.11,762.36 636.67,765.00C642.22,767.64 647.78,770.14 653.33,772.50C658.89,774.86 664.44,777.08 670.00,779.17C675.56,781.25 681.11,783.19 686.67,785.00C692.22,786.81 697.78,788.19 703.33,790.00C708.89,791.81 714.44,794.03 720.00,795.83C725.56,797.64 731.11,799.17 736.67,800.83C742.22,802.50 747.78,804.25 753.33,805.83C758.89,807.42 764.56,808.81 770.00,810.33C775.44,811.86 779.89,813.11 786.00,815.00C792.11,816.89 800.44,819.72 806.67,821.67C812.89,823.61 817.78,825.14 823.33,826.67C828.89,828.19 834.44,829.31 840.00,830.83C845.56,832.36 851.11,834.03 856.67,835.83C862.22,837.64 867.78,839.86 873.33,841.67C878.89,843.47 884.44,845.14 890.00,846.67C895.56,848.19 901.11,849.31 906.67,850.83C912.22,852.36 917.78,854.31 923.33,855.83C928.89,857.36 935.83,858.89 940.00,860.00C944.17,861.11 945.83,861.78 948.33,862.50C950.83,863.22 953.89,864.03 955.00,864.33L960.00,978.00 L581.00,978.00L581.00,918.00C580.22,915.00 577.55,904.00 576.30,900.00C575.05,896.00 574.80,896.67 573.50,894.00C572.20,891.33 570.17,888.33 568.50,884.00C566.83,879.67 565.08,873.00 563.50,868.00C561.92,863.00 560.36,858.11 559.00,854.00C557.64,849.89 556.50,846.36 555.33,843.33C554.17,840.31 553.25,838.47 552.00,835.83C550.75,833.19 549.22,830.28 547.83,827.50C546.44,824.72 545.19,822.08 543.67,819.17C542.14,816.25 540.89,813.75 538.67,810.00C536.44,806.25 533.11,800.83 530.33,796.67C527.56,792.50 524.78,788.75 522.00,785.00C519.22,781.25 516.44,777.78 513.67,774.17C510.89,770.56 508.11,766.81 505.33,763.33C502.56,759.86 499.78,756.64 497.00,753.33C494.22,750.03 491.44,746.28 488.67,743.50C485.89,740.72 483.11,738.64 480.33,736.67C477.56,734.69 475.97,733.82 472.00,731.67C468.03,729.51 461.17,726.53 456.50,723.75C451.83,720.97 448.17,718.12 444.00,715.00C439.83,711.88 435.67,708.33 431.50,705.00C427.33,701.67 425.25,699.58 419.00,695.00C412.75,690.42 402.33,682.42 394.00,677.50C385.67,672.58 374.02,668.06 369.00,665.50C363.98,662.94 366.82,663.46 363.85,662.12C360.89,660.78 355.42,658.70 351.20,657.44C346.99,656.17 342.77,655.27 338.55,654.53C334.33,653.79 330.12,653.12 325.90,653.01C321.68,652.91 317.47,653.75 313.25,653.90C309.03,654.04 304.82,654.04 300.60,653.90C296.38,653.75 291.94,652.97 287.95,653.01C283.96,653.06 280.77,653.61 276.67,654.17C272.56,654.72 267.50,655.69 263.33,656.33C259.17,656.97 255.56,657.61 251.67,658.00C247.78,658.39 243.61,658.75 240.00,658.67C236.39,658.58 233.06,658.39 230.00,657.50C226.94,656.61 224.03,655.00 221.67,653.33C219.31,651.67 217.64,650.00 215.83,647.50C214.03,645.00 212.36,642.08 210.83,638.33C209.31,634.58 207.92,629.28 206.67,625.00C205.42,620.72 204.47,616.72 203.33,612.67C202.19,608.61 200.97,604.94 199.83,600.67C198.69,596.39 197.61,591.50 196.50,587.00C195.39,582.50 194.28,577.56 193.17,573.67C192.06,569.78 190.92,566.03 189.83,563.67C188.75,561.31 187.67,559.83 186.67,559.50C185.67,559.17 185.06,559.92 183.83,561.67C182.61,563.42 180.81,566.67 179.33,570.00C177.86,573.33 176.31,577.50 175.00,581.67C173.69,585.83 172.50,590.00 171.50,595.00C170.50,600.00 169.69,605.83 169.00,611.67C168.31,617.50 167.90,624.44 167.33,630.00C166.77,635.56 166.11,638.33 165.60,645.00C165.09,651.67 164.82,655.00 164.30,670.00C163.78,685.00 163.01,711.67 162.50,735.00C161.99,758.33 161.67,782.50 161.25,810.00C160.83,837.50 160.29,875.00 160.00,900.00C159.71,925.00 159.58,950.00 159.50,960.00Z" fill="#fc8d62" fill-opacity="0.5" stroke="#fc8d62" stroke-opacity="0.5" stroke-width="0.6"/>
<path d="M141.00,960.00C141.17,950.00 141.25,923.33 142.00,900.00C142.75,876.67 144.33,846.67 145.50,820.00C146.67,793.33 148.11,762.33 149.00,740.00C149.89,717.67 150.25,699.06 150.83,686.00C151.42,672.94 151.94,669.89 152.50,661.67C153.06,653.44 153.47,645.00 154.17,636.67C154.86,628.33 155.69,619.44 156.67,611.67C157.64,603.89 158.75,596.67 160.00,590.00C161.25,583.33 162.64,577.08 164.17,571.67C165.69,566.25 167.36,561.53 169.17,557.50C170.97,553.47 172.92,550.28 175.00,547.50C177.08,544.72 179.58,542.42 181.67,540.83C183.75,539.25 185.97,538.42 187.50,538.00C189.03,537.58 189.72,537.58 190.83,538.33C191.94,539.08 193.06,540.28 194.17,542.50C195.28,544.72 196.39,548.19 197.50,551.67C198.61,555.14 199.72,559.31 200.83,563.33C201.94,567.36 203.06,571.53 204.17,575.83C205.28,580.14 206.39,584.86 207.50,589.17C208.61,593.47 209.72,597.64 210.83,601.67C211.94,605.69 213.06,609.58 214.17,613.33C215.28,617.08 216.25,620.56 217.50,624.17C218.75,627.78 220.14,631.67 221.67,635.00C223.19,638.33 225.00,641.67 226.67,644.17C228.33,646.67 229.72,648.61 231.67,650.00C233.61,651.39 235.83,652.22 238.33,652.50C240.83,652.78 243.61,652.22 246.67,651.67C249.72,651.11 253.33,650.14 256.67,649.17C260.00,648.19 263.33,646.86 266.67,645.83C270.00,644.81 273.33,643.92 276.67,643.00C280.00,642.08 282.68,640.98 286.67,640.33C290.66,639.68 296.17,639.41 300.60,639.10C305.03,638.78 309.03,638.42 313.25,638.46C317.47,638.51 321.68,638.82 325.90,639.35C330.12,639.88 334.33,640.72 338.55,641.63C342.77,642.53 346.99,643.73 351.20,644.79C355.42,645.84 360.89,647.08 363.85,647.95C366.82,648.82 366.06,648.20 369.00,650.00C371.94,651.80 377.33,655.62 381.50,658.75C385.67,661.88 389.83,665.21 394.00,668.75C398.17,672.29 402.33,676.25 406.50,680.00C410.67,683.75 414.83,687.50 419.00,691.25C423.17,695.00 427.33,698.33 431.50,702.50C435.67,706.67 439.83,711.88 444.00,716.25C448.17,720.62 452.33,724.38 456.50,728.75C460.67,733.12 465.36,738.12 469.00,742.50C472.64,746.88 475.39,751.25 478.33,755.00C481.28,758.75 483.89,761.53 486.67,765.00C489.44,768.47 492.22,772.36 495.00,775.83C497.78,779.31 500.56,782.64 503.33,785.83C506.11,789.03 508.89,792.08 511.67,795.00C514.44,797.92 517.22,800.69 520.00,803.33C522.78,805.97 525.56,808.47 528.33,810.83C531.11,813.19 533.89,815.28 536.67,817.50C539.44,819.72 542.22,822.08 545.00,824.17C547.78,826.25 550.56,828.42 553.33,830.00C556.11,831.58 558.89,832.42 561.67,833.67C564.44,834.92 565.83,835.75 570.00,837.50C574.17,839.25 581.11,842.22 586.67,844.17C592.22,846.11 597.78,846.86 603.33,849.17C608.89,851.47 614.44,856.06 620.00,858.00C625.56,859.94 631.11,859.67 636.67,860.83C642.22,862.00 647.78,863.75 653.33,865.00C658.89,866.25 664.44,867.36 670.00,868.33C675.56,869.31 681.11,869.58 686.67,870.83C692.22,872.08 697.78,874.44 703.33,875.83C708.89,877.22 714.44,877.92 720.00,879.17C725.56,880.42 731.11,881.81 736.67,883.33C742.22,884.86 747.78,886.61 753.33,888.33C758.89,890.06 764.56,892.11 770.00,893.67C775.44,895.22 781.56,896.61 786.00,897.67C790.44,898.72 793.50,899.22 796.67,900.00C799.83,900.78 803.61,901.94 805.00,902.33L810.00,985.00 L507.50,985.00L507.50,925.00C506.25,920.83 502.08,906.67 500.00,900.00C497.92,893.33 497.08,891.25 495.00,885.00C492.92,878.75 490.17,870.00 487.50,862.50C484.83,855.00 482.08,847.92 479.00,840.00C475.92,832.08 472.75,823.33 469.00,815.00C465.25,806.67 460.67,797.92 456.50,790.00C452.33,782.08 448.17,774.38 444.00,767.50C439.83,760.62 435.67,754.79 431.50,748.75C427.33,742.71 423.17,737.08 419.00,731.25C414.83,725.42 410.67,719.17 406.50,713.75C402.33,708.33 398.17,703.54 394.00,698.75C389.83,693.96 385.67,689.38 381.50,685.00C377.33,680.62 371.94,674.84 369.00,672.50C366.06,670.16 366.82,672.07 363.85,670.97C360.89,669.88 355.42,667.39 351.20,665.91C346.99,664.44 342.77,663.07 338.55,662.12C334.33,661.17 330.12,660.64 325.90,660.22C321.68,659.80 317.47,659.59 313.25,659.59C309.03,659.59 304.82,659.80 300.60,660.22C296.38,660.64 292.17,661.11 287.95,662.12C283.73,663.13 279.52,664.33 275.30,666.29C271.08,668.25 265.20,672.60 262.65,673.88C260.10,675.17 262.11,673.06 260.00,674.00C257.89,674.94 252.92,677.46 250.00,679.50C247.08,681.54 245.00,684.83 242.50,686.25C240.00,687.67 237.50,688.00 235.00,688.00C232.50,688.00 229.86,687.58 227.50,686.25C225.14,684.92 222.64,682.99 220.83,680.00C219.03,677.01 217.92,672.50 216.67,668.33C215.42,664.17 214.44,659.72 213.33,655.00C212.22,650.28 211.11,645.28 210.00,640.00C208.89,634.72 207.78,628.33 206.67,623.33C205.56,618.33 204.44,613.89 203.33,610.00C202.22,606.11 201.11,603.89 200.00,600.00C198.89,596.11 197.78,591.11 196.67,586.67C195.56,582.22 194.44,577.22 193.33,573.33C192.22,569.44 191.11,565.69 190.00,563.33C188.89,560.97 187.64,559.44 186.67,559.17C185.69,558.89 185.28,559.86 184.17,561.67C183.06,563.47 181.39,566.67 180.00,570.00C178.61,573.33 177.08,577.50 175.83,581.67C174.58,585.83 173.47,590.00 172.50,595.00C171.53,600.00 170.69,605.83 170.00,611.67C169.31,617.50 168.85,622.78 168.33,630.00C167.82,637.22 167.25,645.83 166.90,655.00C166.55,664.17 166.57,671.67 166.25,685.00C165.93,698.33 165.29,714.17 165.00,735.00C164.71,755.83 164.58,782.50 164.50,810.00C164.42,837.50 164.58,875.00 164.50,900.00C164.42,925.00 164.08,950.00 164.00,960.00Z" fill="#8da0cb" fill-opacity="0.5" stroke="#8da0cb" stroke-opacity="0.5" stroke-width="0.6"/>
<path d="M141.00,960.00C141.22,950.00 141.67,918.33 142.30,900.00C142.93,881.67 143.85,866.67 144.80,850.00C145.75,833.33 146.80,815.00 148.00,800.00C149.20,785.00 150.67,772.50 152.00,760.00C153.33,747.50 154.67,735.83 156.00,725.00C157.33,714.17 158.83,704.17 160.00,695.00C161.17,685.83 162.07,677.83 163.00,670.00C163.93,662.17 164.85,653.55 165.60,648.00C166.35,642.45 166.77,640.25 167.50,636.70C168.23,633.15 169.03,629.77 170.00,626.70C170.97,623.63 171.92,620.67 173.30,618.30C174.68,615.93 176.35,613.88 178.30,612.50C180.25,611.12 182.49,610.56 185.00,610.00C187.51,609.44 190.56,609.31 193.33,609.17C196.11,609.03 198.89,609.03 201.67,609.17C204.44,609.31 207.22,609.64 210.00,610.00C212.78,610.36 215.56,610.78 218.33,611.33C221.11,611.89 224.17,612.50 226.67,613.33C229.17,614.17 231.11,615.28 233.33,616.33C235.56,617.39 237.22,618.45 240.00,619.67C242.78,620.89 247.28,622.28 250.00,623.66C252.72,625.05 254.22,626.34 256.33,627.96C258.43,629.59 260.54,631.55 262.65,633.40C264.76,635.26 266.87,637.09 268.98,639.10C271.08,641.10 273.40,643.52 275.30,645.42C277.20,647.32 278.67,649.00 280.36,650.48C282.05,651.96 283.52,653.26 285.42,654.28C287.32,655.29 289.22,656.00 291.75,656.55C294.28,657.10 297.02,657.40 300.60,657.56C304.19,657.73 309.03,657.73 313.25,657.56C317.47,657.40 321.68,657.10 325.90,656.55C330.12,656.00 335.18,655.08 338.55,654.28C341.92,653.47 344.03,652.42 346.14,651.75C348.25,651.07 349.30,650.61 351.20,650.23C353.10,649.85 355.42,649.64 357.53,649.47C359.64,649.30 361.94,649.13 363.85,649.22C365.76,649.30 366.06,650.08 369.00,650.00C371.94,649.92 377.33,648.75 381.50,648.75C385.67,648.75 389.83,649.17 394.00,650.00C398.17,650.83 402.33,652.50 406.50,653.75C410.67,655.00 414.83,656.04 419.00,657.50C423.17,658.96 427.33,660.83 431.50,662.50C435.67,664.17 439.83,665.83 444.00,667.50C448.17,669.17 452.33,670.75 456.50,672.50C460.67,674.25 464.83,676.12 469.00,678.00C473.17,679.88 477.33,681.79 481.50,683.75C485.67,685.71 489.83,687.54 494.00,689.75C498.17,691.96 502.33,694.75 506.50,697.00C510.67,699.25 514.83,700.96 519.00,703.25C523.17,705.54 527.33,708.33 531.50,710.75C535.67,713.17 539.83,715.50 544.00,717.75C548.17,720.00 552.33,722.12 556.50,724.25C560.67,726.38 564.83,728.42 569.00,730.50C573.17,732.58 577.33,734.67 581.50,736.75C585.67,738.83 589.83,740.92 594.00,743.00C598.17,745.08 602.17,746.89 606.50,749.25C610.83,751.61 614.97,754.46 620.00,757.17C625.03,759.88 631.11,762.83 636.67,765.50C642.22,768.17 647.78,770.78 653.33,773.17C658.89,775.56 664.44,777.75 670.00,779.83C675.56,781.92 681.11,783.83 686.67,785.67C692.22,787.50 697.78,788.97 703.33,790.83C708.89,792.69 714.44,794.97 720.00,796.83C725.56,798.69 731.11,800.28 736.67,802.00C742.22,803.72 747.78,805.53 753.33,807.17C758.89,808.81 764.56,810.25 770.00,811.83C775.44,813.42 779.89,814.61 786.00,816.67C792.11,818.72 800.44,822.06 806.67,824.17C812.89,826.28 817.78,827.75 823.33,829.33C828.89,830.92 834.44,832.08 840.00,833.67C845.56,835.25 851.11,836.97 856.67,838.83C862.22,840.69 867.78,842.97 873.33,844.83C878.89,846.69 884.44,848.39 890.00,850.00C895.56,851.61 901.11,852.89 906.67,854.50C912.22,856.11 917.78,858.08 923.33,859.67C928.89,861.25 935.83,862.83 940.00,864.00C944.17,865.17 945.83,865.89 948.33,866.67C950.83,867.44 953.89,868.33 955.00,868.67L960.00,1020.00 L560.50,1020.00L560.50,960.00C560.33,950.00 559.83,912.17 559.50,900.00C559.17,887.83 559.08,892.00 558.50,887.00C557.92,882.00 557.00,875.17 556.00,870.00C555.00,864.83 553.50,859.89 552.50,856.00C551.50,852.11 550.83,849.89 550.00,846.67C549.17,843.44 548.33,839.72 547.50,836.67C546.67,833.61 545.97,831.11 545.00,828.33C544.03,825.56 543.06,823.06 541.67,820.00C540.28,816.94 538.89,813.89 536.67,810.00C534.44,806.11 531.11,800.83 528.33,796.67C525.56,792.50 522.78,788.75 520.00,785.00C517.22,781.25 514.44,777.78 511.67,774.17C508.89,770.56 506.11,766.81 503.33,763.33C500.56,759.86 497.78,756.64 495.00,753.33C492.22,750.03 489.44,746.28 486.67,743.50C483.89,740.72 481.11,738.64 478.33,736.67C475.56,734.69 473.64,733.11 470.00,731.67C466.36,730.22 460.83,729.11 456.50,728.00C452.17,726.89 448.17,725.71 444.00,725.00C439.83,724.29 436.50,724.17 431.50,723.75C426.50,723.33 418.17,722.50 414.00,722.50C409.83,722.50 409.83,722.71 406.50,723.75C403.17,724.79 398.17,727.08 394.00,728.75C389.83,730.42 385.67,732.29 381.50,733.75C377.33,735.21 373.00,735.62 369.00,737.50C365.00,739.38 361.50,742.83 357.50,745.00C353.50,747.17 349.17,748.75 345.00,750.50C340.83,752.25 336.67,754.12 332.50,755.50C328.33,756.88 324.17,757.58 320.00,758.75C315.83,759.92 311.67,761.88 307.50,762.50C303.33,763.12 299.58,762.71 295.00,762.50C290.42,762.29 284.17,762.29 280.00,761.25C275.83,760.21 272.92,758.12 270.00,756.25C267.08,754.38 265.00,751.88 262.50,750.00C260.00,748.12 257.50,745.92 255.00,745.00C252.50,744.08 250.42,743.88 247.50,744.50C244.58,745.12 240.62,746.79 237.50,748.75C234.38,750.71 231.25,753.12 228.75,756.25C226.25,759.38 224.17,761.88 222.50,767.50C220.83,773.12 219.79,780.83 218.75,790.00C217.71,799.17 216.88,810.83 216.25,822.50C215.62,834.17 215.29,847.04 215.00,860.00C214.71,872.96 214.62,887.75 214.50,900.25C214.38,912.75 214.29,929.21 214.25,935.00Z" fill="#66c2a5" fill-opacity="0.5" stroke="#66c2a5" stroke-opacity="0.5" stroke-width="0.6"/>
<path d="M142.00,960.00C142.12,950.00 142.27,916.67 142.70,900.00C143.13,883.33 143.88,873.33 144.60,860.00C145.32,846.67 145.93,840.00 147.00,820.00C148.07,800.00 149.68,762.33 151.00,740.00C152.32,717.67 154.14,699.06 154.90,686.00C155.66,672.94 155.18,669.89 155.58,661.67C155.99,653.44 156.62,645.00 157.33,636.67C158.05,628.33 158.90,619.44 159.88,611.67C160.87,603.89 161.99,596.42 163.25,590.00C164.51,583.58 165.90,578.11 167.42,573.17C168.93,568.22 170.54,563.92 172.33,560.33C174.12,556.75 176.33,553.69 178.17,551.67C180.00,549.64 181.78,548.86 183.33,548.17C184.89,547.47 186.22,547.25 187.50,547.50C188.78,547.75 189.85,548.14 191.00,549.67C192.15,551.19 193.29,553.64 194.42,556.67C195.54,559.69 196.62,563.86 197.75,567.83C198.88,571.81 200.01,576.36 201.17,580.50C202.32,584.64 203.47,589.14 204.67,592.67C205.86,596.19 207.03,598.50 208.33,601.67C209.64,604.83 211.11,608.75 212.50,611.67C213.89,614.58 215.14,616.94 216.67,619.17C218.19,621.39 219.72,623.19 221.67,625.00C223.61,626.81 225.83,628.47 228.33,630.00C230.83,631.53 233.61,632.78 236.67,634.17C239.72,635.56 243.33,637.14 246.67,638.33C250.00,639.53 253.33,640.50 256.67,641.33C260.00,642.17 263.33,642.94 266.67,643.33C270.00,643.72 273.33,643.72 276.67,643.67C280.00,643.61 283.44,643.19 286.67,643.00C289.89,642.81 292.53,642.71 296.00,642.50C299.47,642.29 303.50,641.92 307.50,641.75C311.50,641.58 315.83,641.46 320.00,641.50C324.17,641.54 328.33,641.62 332.50,642.00C336.67,642.38 340.83,643.04 345.00,643.75C349.17,644.46 353.50,645.42 357.50,646.25C361.50,647.08 365.00,647.50 369.00,648.75C373.00,650.00 377.33,651.96 381.50,653.75C385.67,655.54 389.83,657.54 394.00,659.50C398.17,661.46 402.33,663.33 406.50,665.50C410.67,667.67 414.83,670.29 419.00,672.50C423.17,674.71 427.33,676.58 431.50,678.75C435.67,680.92 439.83,683.21 444.00,685.50C448.17,687.79 452.33,690.17 456.50,692.50C460.67,694.83 464.83,697.21 469.00,699.50C473.17,701.79 477.33,703.88 481.50,706.25C485.67,708.62 489.83,711.25 494.00,713.75C498.17,716.25 502.33,718.75 506.50,721.25C510.67,723.75 514.83,726.12 519.00,728.75C523.17,731.38 528.56,734.99 531.50,737.00C534.44,739.01 533.03,738.25 536.67,740.83C540.31,743.42 547.78,748.75 553.33,752.50C558.89,756.25 564.44,759.86 570.00,763.33C575.56,766.81 581.11,770.14 586.67,773.33C592.22,776.53 597.78,779.44 603.33,782.50C608.89,785.56 614.44,788.47 620.00,791.67C625.56,794.86 631.11,798.47 636.67,801.67C642.22,804.86 647.78,807.92 653.33,810.83C658.89,813.75 664.44,816.53 670.00,819.17C675.56,821.81 681.11,824.31 686.67,826.67C692.22,829.03 697.78,831.25 703.33,833.33C708.89,835.42 714.44,837.22 720.00,839.17C725.56,841.11 731.11,843.19 736.67,845.00C742.22,846.81 747.78,848.47 753.33,850.00C758.89,851.53 764.56,852.78 770.00,854.17C775.44,855.56 779.89,856.67 786.00,858.33C792.11,860.00 800.44,862.36 806.67,864.17C812.89,865.97 817.78,867.50 823.33,869.17C828.89,870.83 834.44,872.50 840.00,874.17C845.56,875.83 851.11,877.50 856.67,879.17C862.22,880.83 867.78,882.50 873.33,884.17C878.89,885.83 884.44,887.64 890.00,889.17C895.56,890.69 901.11,891.94 906.67,893.33C912.22,894.72 919.17,896.47 923.33,897.50C927.50,898.53 927.50,898.39 931.67,899.50C935.83,900.61 945.56,903.39 948.33,904.17" fill="none" stroke="#d95f02" stroke-width="2.75" stroke-linejoin="round"/>
<path d="M144.50,960.00C144.71,950.00 145.08,923.33 145.75,900.00C146.42,876.67 147.53,846.67 148.50,820.00C149.47,793.33 150.45,762.33 151.60,740.00C152.75,717.67 154.69,699.06 155.40,686.00C156.11,672.94 155.48,669.89 155.83,661.67C156.18,653.44 156.81,645.00 157.50,636.67C158.19,628.33 159.03,619.44 160.00,611.67C160.97,603.89 162.08,596.39 163.33,590.00C164.58,583.61 165.97,578.19 167.50,573.33C169.03,568.47 170.69,564.31 172.50,560.83C174.31,557.36 176.53,554.44 178.33,552.50C180.14,550.56 181.81,549.81 183.33,549.17C184.86,548.53 186.25,548.39 187.50,548.67C188.75,548.94 189.72,549.36 190.83,550.83C191.94,552.31 193.06,554.58 194.17,557.50C195.28,560.42 196.39,564.31 197.50,568.33C198.61,572.36 199.72,577.22 200.83,581.67C201.94,586.11 203.06,590.56 204.17,595.00C205.28,599.44 206.39,603.89 207.50,608.33C208.61,612.78 209.72,617.50 210.83,621.67C211.94,625.83 213.06,629.72 214.17,633.33C215.28,636.94 216.25,640.14 217.50,643.33C218.75,646.53 220.14,649.86 221.67,652.50C223.19,655.14 225.00,657.42 226.67,659.17C228.33,660.92 229.72,662.08 231.67,663.00C233.61,663.92 236.11,664.47 238.33,664.67C240.56,664.86 242.78,664.53 245.00,664.17C247.22,663.81 249.17,663.33 251.67,662.50C254.17,661.67 257.22,660.28 260.00,659.17C262.78,658.06 265.56,656.94 268.33,655.83C271.11,654.72 273.89,653.47 276.67,652.50C279.44,651.53 281.78,650.83 285.00,650.00C288.22,649.17 292.25,647.92 296.00,647.50C299.75,647.08 303.50,647.42 307.50,647.50C311.50,647.58 315.83,647.58 320.00,648.00C324.17,648.42 328.33,649.12 332.50,650.00C336.67,650.88 340.83,651.92 345.00,653.25C349.17,654.58 353.50,656.46 357.50,658.00C361.50,659.54 365.00,660.08 369.00,662.50C373.00,664.92 377.33,669.17 381.50,672.50C385.67,675.83 389.83,678.75 394.00,682.50C398.17,686.25 402.33,690.83 406.50,695.00C410.67,699.17 414.83,702.92 419.00,707.50C423.17,712.08 427.33,717.50 431.50,722.50C435.67,727.50 439.83,732.42 444.00,737.50C448.17,742.58 452.33,747.67 456.50,753.00C460.67,758.33 464.83,764.04 469.00,769.50C473.17,774.96 477.58,780.17 481.50,785.75C485.42,791.33 488.58,797.29 492.50,803.00C496.42,808.71 500.83,814.46 505.00,820.00C509.17,825.54 513.33,830.83 517.50,836.25C521.67,841.67 525.83,847.50 530.00,852.50C534.17,857.50 538.33,862.08 542.50,866.25C546.67,870.42 550.83,874.17 555.00,877.50C559.17,880.83 563.33,883.83 567.50,886.25C571.67,888.67 575.83,890.33 580.00,892.00C584.17,893.67 588.75,894.92 592.50,896.25C596.25,897.58 597.92,898.75 602.50,900.00C607.08,901.25 617.08,903.12 620.00,903.75" fill="none" stroke="#8da0cb" stroke-width="2.75" stroke-linejoin="round"/>
<path d="M142.00,935.00C142.17,929.21 142.50,912.75 143.00,900.25C143.50,887.75 144.25,872.96 145.00,860.00C145.75,847.04 146.46,837.08 147.50,822.50C148.54,807.92 149.73,786.25 151.25,772.50C152.77,758.75 155.46,747.86 156.61,740.00C157.75,732.14 157.53,730.29 158.11,725.34C158.70,720.39 159.37,715.30 160.12,710.28C160.87,705.26 161.71,700.24 162.63,695.22C163.55,690.20 164.64,684.34 165.64,680.16C166.65,675.98 167.85,672.71 168.65,670.12C169.46,667.53 169.71,666.10 170.46,664.60C171.21,663.09 172.05,662.67 173.17,661.08C174.29,659.49 175.68,656.90 177.19,655.06C178.69,653.22 180.37,651.55 182.21,650.04C184.05,648.53 186.22,647.20 188.23,646.02C190.24,644.85 192.25,643.85 194.26,643.01C196.27,642.18 197.66,641.62 200.28,641.00C202.90,640.39 206.99,639.50 210.00,639.33C213.01,639.17 215.56,639.47 218.33,640.00C221.11,640.53 223.89,641.39 226.67,642.50C229.44,643.61 232.22,645.00 235.00,646.67C237.78,648.33 240.56,650.42 243.33,652.50C246.11,654.58 248.89,656.81 251.67,659.17C254.44,661.53 257.22,664.31 260.00,666.67C262.78,669.03 265.56,671.25 268.33,673.33C271.11,675.42 273.89,677.72 276.67,679.17C279.44,680.61 281.94,680.90 285.00,682.00C288.06,683.10 291.67,684.83 295.00,685.75C298.33,686.67 301.67,687.21 305.00,687.50C308.33,687.79 311.67,687.79 315.00,687.50C318.33,687.21 321.67,686.46 325.00,685.75C328.33,685.04 331.67,684.08 335.00,683.25C338.33,682.42 341.25,681.58 345.00,680.75C348.75,679.92 353.50,678.79 357.50,678.25C361.50,677.71 365.00,677.88 369.00,677.50C373.00,677.12 377.33,676.21 381.50,676.00C385.67,675.79 389.83,675.92 394.00,676.25C398.17,676.58 402.33,677.29 406.50,678.00C410.67,678.71 414.83,679.42 419.00,680.50C423.17,681.58 427.33,683.12 431.50,684.50C435.67,685.88 439.83,687.08 444.00,688.75C448.17,690.42 452.33,692.54 456.50,694.50C460.67,696.46 464.83,698.33 469.00,700.50C473.17,702.67 477.33,705.17 481.50,707.50C485.67,709.83 489.83,712.08 494.00,714.50C498.17,716.92 502.33,719.50 506.50,722.00C510.67,724.50 514.83,726.92 519.00,729.50C523.17,732.08 528.56,735.56 531.50,737.50C534.44,739.44 533.03,738.61 536.67,741.17C540.31,743.72 547.78,749.08 553.33,752.83C558.89,756.58 564.44,760.19 570.00,763.67C575.56,767.14 581.11,770.47 586.67,773.67C592.22,776.86 597.78,779.78 603.33,782.83C608.89,785.89 614.44,788.81 620.00,792.00C625.56,795.19 631.11,798.81 636.67,802.00C642.22,805.19 647.78,808.22 653.33,811.17C658.89,814.11 664.44,816.97 670.00,819.67C675.56,822.36 681.11,824.92 686.67,827.33C692.22,829.75 697.78,832.00 703.33,834.17C708.89,836.33 714.44,838.31 720.00,840.33C725.56,842.36 731.11,844.47 736.67,846.33C742.22,848.19 747.78,849.89 753.33,851.50C758.89,853.11 764.56,854.56 770.00,856.00C775.44,857.44 779.89,858.39 786.00,860.17C792.11,861.94 800.44,864.75 806.67,866.67C812.89,868.58 817.78,869.94 823.33,871.67C828.89,873.39 834.44,875.28 840.00,877.00C845.56,878.72 851.11,880.33 856.67,882.00C862.22,883.67 868.33,885.39 873.33,887.00C878.33,888.61 882.50,890.33 886.67,891.67C890.83,893.00 895.00,894.03 898.33,895.00C901.67,895.97 903.89,896.75 906.67,897.50C909.44,898.25 910.83,898.39 915.00,899.50C919.17,900.61 928.89,903.39 931.67,904.17" fill="none" stroke="#1b9e77" stroke-width="2.75" stroke-linejoin="round"/></g>
<path d="M124.90,506.30 h-5.7 M124.90,571.92 h-5.7 M124.90,637.53 h-5.7 M124.90,703.15 h-5.7 M124.90,768.77 h-5.7 M124.90,834.38 h-5.7 M124.90,900.00 h-5.7" stroke="#000" stroke-width="1.1" fill="none"/>
<path d="M124.90,552.16 h-3.4 M124.90,540.61 h-3.4 M124.90,532.41 h-3.4 M124.90,526.05 h-3.4 M124.90,520.86 h-3.4 M124.90,516.46 h-3.4 M124.90,512.66 h-3.4 M124.90,509.30 h-3.4 M124.90,617.78 h-3.4 M124.90,606.23 h-3.4 M124.90,598.03 h-3.4 M124.90,591.67 h-3.4 M124.90,586.47 h-3.4 M124.90,582.08 h-3.4 M124.90,578.28 h-3.4 M124.90,574.92 h-3.4 M124.90,683.40 h-3.4 M124.90,671.84 h-3.4 M124.90,663.64 h-3.4 M124.90,657.29 h-3.4 M124.90,652.09 h-3.4 M124.90,647.70 h-3.4 M124.90,643.89 h-3.4 M124.90,640.54 h-3.4 M124.90,749.01 h-3.4 M124.90,737.46 h-3.4 M124.90,729.26 h-3.4 M124.90,722.90 h-3.4 M124.90,717.71 h-3.4 M124.90,713.31 h-3.4 M124.90,709.51 h-3.4 M124.90,706.15 h-3.4 M124.90,814.63 h-3.4 M124.90,803.08 h-3.4 M124.90,794.88 h-3.4 M124.90,788.52 h-3.4 M124.90,783.32 h-3.4 M124.90,778.93 h-3.4 M124.90,775.13 h-3.4 M124.90,771.77 h-3.4 M124.90,880.25 h-3.4 M124.90,868.69 h-3.4 M124.90,860.49 h-3.4 M124.90,854.14 h-3.4 M124.90,848.94 h-3.4 M124.90,844.55 h-3.4 M124.90,840.74 h-3.4 M124.90,837.39 h-3.4" stroke="#000" stroke-width="0.85" fill="none"/>
<path d="M283.12,900.00 v5.7 M449.66,900.00 v5.7 M616.21,900.00 v5.7 M782.75,900.00 v5.7 M949.30,900.00 v5.7" stroke="#000" stroke-width="1.1" fill="none"/>
<rect x="124.90" y="506.30" width="824.40" height="393.70" fill="none" stroke="#000" stroke-width="1.39"/>
<text transform="translate(78.40 515.90) scale(0.9481 1)" font-size="27.00">10</text>
<text transform="translate(104.00 506.30) scale(0.9684 1)" font-size="19.00">0</text>
<text transform="translate(64.30 581.52) scale(0.9481 1)" font-size="27.00">10</text>
<text transform="translate(90.00 571.92) scale(1.1179 1)" font-size="19.00">−1</text>
<text transform="translate(64.30 647.13) scale(0.9481 1)" font-size="27.00">10</text>
<text transform="translate(90.00 637.53) scale(1.1179 1)" font-size="19.00">−2</text>
<text transform="translate(64.30 712.75) scale(0.9481 1)" font-size="27.00">10</text>
<text transform="translate(90.00 703.15) scale(1.1179 1)" font-size="19.00">−3</text>
<text transform="translate(64.30 778.37) scale(0.9481 1)" font-size="27.00">10</text>
<text transform="translate(90.00 768.77) scale(1.1179 1)" font-size="19.00">−4</text>
<text transform="translate(64.30 843.98) scale(0.9481 1)" font-size="27.00">10</text>
<text transform="translate(90.00 834.38) scale(1.1179 1)" font-size="19.00">−5</text>
<text transform="translate(64.30 909.60) scale(0.9481 1)" font-size="27.00">10</text>
<text transform="translate(90.00 900.00) scale(1.1179 1)" font-size="19.00">−6</text>
<text transform="translate(269.82 929.80) scale(0.9852 1)" font-size="27.00">20</text>
<text transform="translate(436.36 929.80) scale(0.9852 1)" font-size="27.00">40</text>
<text transform="translate(602.91 929.80) scale(0.9852 1)" font-size="27.00">60</text>
<text transform="translate(769.45 929.80) scale(0.9852 1)" font-size="27.00">80</text>
<text transform="translate(929.30 929.80) scale(0.9877 1)" font-size="27.00">100</text>
<rect x="791.70" y="515.10" width="148.80" height="83.10" rx="3" ry="3" fill="#fff" fill-opacity="0.8" stroke="#ccc" stroke-width="1.1"/>
<rect x="798.2" y="521.90" width="36.4" height="13.6" fill="#fc8d62" fill-opacity="0.5" stroke="#fc8d62" stroke-opacity="0.5" stroke-width="0.6"/>
<rect x="798.2" y="547.90" width="36.4" height="13.6" fill="#8da0cb" fill-opacity="0.5" stroke="#8da0cb" stroke-opacity="0.5" stroke-width="0.6"/>
<rect x="798.2" y="573.90" width="36.4" height="13.6" fill="#66c2a5" fill-opacity="0.5" stroke="#66c2a5" stroke-opacity="0.5" stroke-width="0.6"/>
<text transform="translate(847.60 535.30) scale(1.1524 1)" font-size="16.60">total</text>
<text transform="translate(888.20 535.30) scale(1.1325 1)" font-size="16.60" font-style="italic">p</text>
<text transform="translate(898.20 535.30) scale(0.9686 1)" font-size="18.60">(</text>
<text transform="translate(904.40 535.30) scale(1.2012 1)" font-size="16.60" font-style="italic">m</text>
<text transform="translate(919.20 537.30) scale(1.0690 1)" font-size="11.60">2</text>
<text transform="translate(927.20 535.30) scale(0.9686 1)" font-size="18.60">)</text>
<text transform="translate(848.20 561.00) scale(1.1325 1)" font-size="16.60" font-style="italic">p</text>
<text transform="translate(856.60 563.00) scale(1.2331 1)" font-size="11.60">main</text>
<text transform="translate(888.00 561.00) scale(0.9686 1)" font-size="18.60">(</text>
<text transform="translate(894.20 561.00) scale(1.2012 1)" font-size="16.60" font-style="italic">m</text>
<text transform="translate(909.00 563.00) scale(1.0690 1)" font-size="11.60">2</text>
<text transform="translate(917.00 561.00) scale(0.9686 1)" font-size="18.60">)</text>
<text transform="translate(848.20 586.70) scale(1.1325 1)" font-size="16.60" font-style="italic">p</text>
<text transform="translate(856.60 588.70) scale(1.2536 1)" font-size="11.60">sub</text>
<text transform="translate(879.00 586.70) scale(0.9686 1)" font-size="18.60">(</text>
<text transform="translate(885.20 586.70) scale(1.2012 1)" font-size="16.60" font-style="italic">m</text>
<text transform="translate(900.00 588.70) scale(1.0690 1)" font-size="11.60">2</text>
<text transform="translate(908.00 586.70) scale(0.9686 1)" font-size="18.60">)</text>
<g transform="translate(49.2,763.15) rotate(-90)"><text transform="translate(0.10 0.00) scale(1.1600 1)" font-size="25.00" font-style="italic">p</text><text transform="translate(15.30 0.00) scale(1.0187 1)" font-size="28.00">(</text><text transform="translate(25.50 0.00) scale(1.0302 1)" font-size="25.00" font-style="italic">m</text><text transform="translate(42.40 3.90) scale(0.9829 1)" font-size="17.50">2</text><text transform="translate(50.20 0.00) scale(1.0187 1)" font-size="28.00">)</text><text transform="translate(60.00 0.00) scale(0.8579 1)" font-size="28.00">[</text><text transform="translate(67.20 0.00) scale(1.0756 1)" font-size="25.00" font-style="italic">M</text><circle cx="102.20" cy="2.60" r="5.40" fill="none" stroke="#000" stroke-width="0.85"/><circle cx="102.20" cy="2.60" r="1.05" fill="#000"/><text transform="translate(98.00 -10.00) scale(1.2138 1)" font-size="17.50">−1</text></g>
<text transform="translate(494.30 961.60) scale(1.2961 1)" font-size="25.00" font-style="italic">m</text><text transform="translate(516.60 965.50) scale(1.0743 1)" font-size="17.50">2</text><text transform="translate(527.00 961.60) scale(0.8579 1)" font-size="28.00">[</text><text transform="translate(534.40 961.60) scale(1.2676 1)" font-size="25.00" font-style="italic">M</text><circle cx="564.65" cy="961.30" r="5.00" fill="none" stroke="#000" stroke-width="0.85"/><circle cx="564.65" cy="961.30" r="1.05" fill="#000"/><text transform="translate(570.60 961.60) scale(0.8579 1)" font-size="28.00">]</text>
</svg></body></html>
